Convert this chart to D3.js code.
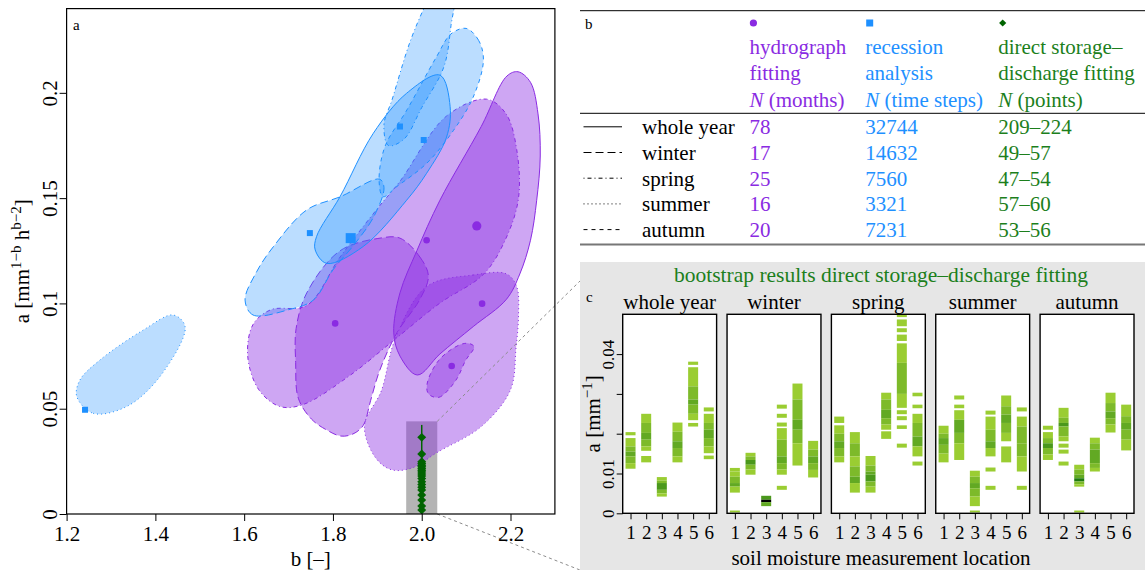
<!DOCTYPE html>
<html>
<head>
<meta charset="utf-8">
<script src="https://cdn.jsdelivr.net/npm/d3@7"></script>
<style>
  body { margin: 0; background: #fff; }
  svg, svg text { font-family: "Liberation Serif", "Times New Roman", serif; }
</style>
</head>
<body>
<div id="chart"></div>
<script>
// ---------- data ----------
var seasons = ["whole year", "winter", "spring", "summer", "autumn"];

// panel a: confidence regions as outline points [b, a]
var hydroWhole  = [[2.217,0.210],[2.245,0.205],[2.262,0.190],[2.267,0.170],[2.259,0.149],[2.245,0.130],[2.221,0.114],[2.191,0.102],[2.116,0.089],[2.041,0.076],[1.990,0.066],[1.951,0.075],[1.937,0.086],[1.951,0.105],[1.989,0.125],[2.041,0.149],[2.134,0.184],[2.192,0.208]];
var hydroWinter = [[1.951,0.131],[1.996,0.122],[2.015,0.113],[1.996,0.102],[1.944,0.086],[1.905,0.068],[1.885,0.054],[1.868,0.042],[1.845,0.038],[1.818,0.037],[1.785,0.040],[1.752,0.045],[1.722,0.055],[1.716,0.072],[1.717,0.088],[1.741,0.105],[1.816,0.125],[1.906,0.131]];
var hydroSpring = [[2.146,0.197],[2.190,0.190],[2.214,0.173],[2.218,0.150],[2.190,0.131],[2.140,0.114],[2.040,0.100],[1.940,0.083],[1.833,0.065],[1.733,0.052],[1.681,0.051],[1.633,0.059],[1.608,0.075],[1.620,0.090],[1.660,0.097],[1.741,0.099],[1.816,0.122],[1.900,0.145],[1.951,0.158],[2.056,0.189]];
var hydroSummer = [[2.011,0.108],[2.116,0.1135],[2.191,0.114],[2.214,0.108],[2.218,0.094],[2.2125,0.079],[2.200,0.059],[2.134,0.0415],[2.033,0.029],[1.980,0.022],[1.932,0.021],[1.895,0.027],[1.871,0.042],[1.909,0.0585],[1.940,0.083]];
var hydroAutumn = [[2.0155,0.057],[2.0385,0.0554],[2.0766,0.0634],[2.099,0.073],[2.118,0.0794],[2.106,0.081],[2.084,0.0802],[2.0385,0.073],[2.012,0.0617]];
var hydroPoints = [[2.124,0.1368],[1.805,0.0905],[2.011,0.130],[2.136,0.0999],[2.0675,0.0703]];

var recWhole  = [[2.041,0.2084],[2.064,0.1934],[2.056,0.179],[2.011,0.1618],[1.966,0.149],[1.868,0.127],[1.786,0.119],[1.760,0.1254],[1.763,0.1317],[1.816,0.1507],[1.891,0.1808],[1.966,0.1998]];
var recWinter = [[1.602,0.1016],[1.620,0.0945],[1.700,0.097],[1.756,0.1016],[1.800,0.1159],[1.850,0.1285],[1.892,0.1412],[1.915,0.155],[1.905,0.159],[1.817,0.1507],[1.741,0.1444],[1.666,0.127],[1.628,0.115]];
var recSpring = [[1.925,0.175],[1.915,0.185],[1.933,0.1966],[1.975,0.225],[2.016,0.245],[2.050,0.258],[2.075,0.250],[2.066,0.232],[2.050,0.2124],[2.000,0.193],[1.960,0.178]];
var recSummer = [[1.223,0.0557],[1.260,0.0478],[1.335,0.051],[1.410,0.0652],[1.467,0.0889],[1.440,0.0945],[1.373,0.0874],[1.275,0.0731],[1.230,0.0636]];
var recAutumn = [[2.100,0.2306],[2.128,0.225],[2.139,0.2156],[2.116,0.198],[2.071,0.182],[2.011,0.1665],[1.944,0.1555],[1.913,0.1507],[1.904,0.158],[1.917,0.1744],[1.967,0.192],[2.033,0.217],[2.066,0.228]];
var recPoints = [[1.840,0.131],[1.748,0.1334],[1.951,0.184],[1.2415,0.0495],[2.0045,0.1776]];

// direct storage-discharge fitting, all at b = 2
var storageB = 2.0;
var storageA = [0.0364,0.0285,0.0248,0.0240,0.0232,0.0224,0.0216,0.0208,0.0200,0.0190,0.0180,0.0168,0.0153,0.0140,0.0127,0.0114,0.0090,0.0066,0.0038,0.0019];
var storageMax = 0.0423;

var xTicksA = [1.2, 1.4, 1.6, 1.8, 2.0, 2.2];
var xTickLabelsA = ["1.2", "1.4", "1.6", "1.8", "2.0", "2.2"];
var yTicksA = [0, 0.05, 0.1, 0.15, 0.2];
var yTickLabelsA = ["0", "0.05", "0.1", "0.15", "0.2"];

// panel b table
var nHydro = ["78", "17", "25", "16", "20"];
var nRecession = ["32744", "14632", "7560", "3321", "7231"];
var nStorage = ["209\u2013224", "49\u201357", "47\u201354", "57\u201360", "53\u201356"];

// panel c: bootstrap a values per location, segments [lo, hi, shade] in 1e-3 mm^-1
var bootWholeYear = [
  [[19.6,20.4,1],[16.8,18.9,1],[15.5,16.8,2],[14.3,15.5,3],[12.6,14.3,2],[11.2,12.6,1]],
  [[22.7,25.0,1],[20.2,22.7,2],[18.5,20.2,3],[16.8,18.5,2],[15.7,16.8,1],[12.8,14.4,1]],
  [[8.2,9.1,1],[7.6,8.2,2],[5.9,7.6,4],[5.0,5.9,2],[4.2,5.0,1]],
  [[20.5,22.8,1],[18.1,20.5,2],[16.4,18.1,3],[14.3,16.4,2],[12.8,14.3,1]],
  [[37.3,38.1,1],[31.9,36.7,1],[28.6,31.9,2],[27.3,28.6,3],[25.0,27.3,2],[23.4,25.0,1],[21.8,22.7,1]],
  [[25.6,26.6,1],[22.7,25.0,1],[21.0,22.7,2],[18.9,21.0,3],[16.8,18.9,2],[15.1,16.8,1],[13.6,14.5,1]]
];
var bootWinter = [
  [[10.5,11.4,1],[9.2,10.5,1],[7.6,9.2,2],[6.7,7.6,3],[5.2,6.7,1],[0.2,0.7,1]],
  [[14.3,15.2,1],[13.4,14.3,2],[12.2,13.4,4],[11.0,12.2,2],[9.7,11.0,1]],
  [[3.4,4.4,4],[2.8,3.4,6],[1.8,2.8,3]],
  [[26.3,27.3,1],[24.0,25.0,1],[21.8,22.8,1],[18.5,21.4,1],[14.3,18.5,2],[12.6,14.3,3],[11.0,12.6,2],[9.7,11.0,1],[5.9,6.9,1]],
  [[28.6,32.6,1],[23.5,28.6,2],[21.0,23.5,3],[17.6,21.0,2],[12.0,17.6,1]],
  [[16.0,18.2,1],[14.3,16.0,2],[12.6,14.3,3],[10.9,12.6,2],[9.0,10.9,1]]
];
var bootSpring = [
  [[22.7,24.3,1],[20.0,22.1,1],[18.1,20.0,2],[16.4,18.1,3],[14.3,16.4,2],[12.8,14.3,1]],
  [[17.6,20.4,1],[14.3,17.6,2],[11.8,14.3,1],[9.2,11.8,2],[7.6,9.2,3],[5.2,7.6,1]],
  [[12.0,14.4,1],[10.5,12.0,2],[9.7,10.5,3],[8.0,9.7,4],[6.7,8.0,2],[5.2,6.7,1]],
  [[28.6,30.3,1],[26.0,28.6,2],[23.9,26.0,3],[22.3,23.9,2],[21.0,22.3,1],[18.7,20.6,1]],
  [[49.3,50.2,1],[47.0,48.7,1],[45.5,46.5,1],[43.3,44.9,1],[37.8,42.7,1],[30.0,37.8,2],[26.5,30.0,1],[24.9,25.9,1],[23.4,24.4,1],[21.2,22.1,1],[16.5,17.5,1]],
  [[29.4,30.3,1],[26.4,27.3,1],[22.7,25.0,1],[19.3,22.7,2],[16.8,19.3,3],[14.3,16.8,1],[12.0,13.0,1]]
];
var bootSummer = [
  [[20.0,22.0,1],[18.9,20.0,2],[17.2,18.9,3],[15.0,17.2,2],[12.8,15.0,1]],
  [[28.6,29.6,1],[26.4,27.3,1],[23.5,25.9,1],[20.2,23.5,3],[17.6,20.2,2],[13.4,17.6,1]],
  [[9.2,10.7,1],[7.6,9.2,2],[6.3,7.6,3],[4.2,6.3,2],[1.8,4.2,1],[0.2,0.7,1]],
  [[24.8,25.8,1],[21.0,24.3,1],[18.1,21.0,2],[16.4,18.1,3],[14.3,16.4,1],[10.5,11.5,1],[5.9,6.9,1]],
  [[26.9,29.6,1],[24.8,26.9,2],[22.7,24.8,3],[20.2,22.7,2],[18.1,20.2,1],[12.8,16.8,1]],
  [[25.6,26.6,1],[21.8,24.3,1],[17.6,21.8,2],[14.3,17.6,2],[10.5,14.3,1],[5.9,6.9,1]]
];
var bootAutumn = [
  [[21.0,22.0,1],[18.9,20.4,1],[17.6,18.9,2],[16.4,17.6,4],[14.8,16.4,2],[13.4,14.8,1]],
  [[24.0,26.5,1],[22.7,24.0,2],[21.8,22.7,4],[19.3,21.8,2],[18.1,19.3,1],[16.5,17.5,1],[15.0,16.0,1],[12.0,13.0,1]],
  [[11.0,12.2,1],[9.7,11.0,2],[8.8,9.7,3],[8.0,8.8,5],[7.3,8.0,2],[6.7,7.3,1],[0.2,0.7,1]],
  [[17.6,19.0,1],[16.0,17.6,2],[12.6,16.0,3],[11.4,12.6,2],[10.5,11.4,1]],
  [[27.7,30.3,1],[25.6,27.7,2],[23.9,25.6,3],[22.3,23.9,2],[20.3,22.3,1]],
  [[24.4,27.3,1],[22.7,24.4,2],[21.0,22.7,3],[18.5,21.0,2],[15.8,18.5,1]]
];
var locations = [1, 2, 3, 4, 5, 6];
var yTicksC = [0, 0.01, 0.02, 0.03, 0.04];
var yTickLabelsC = ["0", "0.01", "", "", "0.04"];

// ---------- styles ----------
var purple = "#8A2BE2", blue = "#1E90FF", green = "#006400", textGreen = "#1C7F1C";
var dashes = { "whole year": null, "winter": "8,4", "spring": "1,3,4,3", "summer": "1,3", "autumn": "4,4" };
var shade = ["#9ACD32", "#7DBA2A", "#62A923", "#4A981C", "#1E7A0E", "#000000"];
var fs = 21;

var W = 1145, H = 570;
var svg = d3.select("#chart").append("svg")
    .attr("width", W)
    .attr("height", H);

// ================= panel a =================
var x = d3.scaleLinear().domain([1.2, 2.3]).range([66.6, 554.9]);
var y = d3.scaleLinear().domain([0, 0.24]).range([514, 8.6]);

svg.append("clipPath").attr("id", "clipA")
  .append("rect")
    .attr("x", x(1.2)).attr("y", y(0.24))
    .attr("width", x(2.3) - x(1.2)).attr("height", y(0) - y(0.24));

var gA = svg.append("g").attr("clip-path", "url(#clipA)");

// zoom rectangle (drawn under the regions)
gA.append("rect")
    .attr("x", x(1.965)).attr("y", y(0.044))
    .attr("width", x(2.035) - x(1.965)).attr("height", y(0) - y(0.044))
    .attr("fill", "#b4b4b4");

var outline = d3.line()
    .x(function(d) { return x(d[0]); })
    .y(function(d) { return y(d[1]); })
    .curve(d3.curveCatmullRomClosed.alpha(0.5));

var hydroRegions = [hydroWhole, hydroWinter, hydroSpring, hydroSummer, hydroAutumn];
var recRegions = [recWhole, recWinter, recSpring, recSummer, recAutumn];

function drawRegions(regions, color, opacity) {
  gA.append("g").selectAll("path")
    .data(regions)
    .enter().append("path")
      .attr("d", outline)
      .attr("fill", color)
      .attr("fill-opacity", opacity)
      .attr("stroke", color)
      .attr("stroke-width", 1)
      .attr("stroke-dasharray", function(d, i) { return dashes[seasons[i]]; });
}
drawRegions(hydroRegions, purple, 0.42);
drawRegions(recRegions, blue, 0.3);

// best estimates
gA.append("g").selectAll("circle")
  .data(hydroPoints)
  .enter().append("circle")
    .attr("cx", function(d) { return x(d[0]); })
    .attr("cy", function(d) { return y(d[1]); })
    .attr("r", function(d, i) { return i === 0 ? 4.6 : 3.3; })
    .attr("fill", purple);

gA.append("g").selectAll("rect")
  .data(recPoints)
  .enter().append("rect")
    .attr("x", function(d, i) { return x(d[0]) - (i === 0 ? 5 : 3); })
    .attr("y", function(d, i) { return y(d[1]) - (i === 0 ? 5 : 3); })
    .attr("width", function(d, i) { return i === 0 ? 10 : 6; })
    .attr("height", function(d, i) { return i === 0 ? 10 : 6; })
    .attr("fill", blue);

gA.append("line")
    .attr("x1", x(storageB)).attr("x2", x(storageB))
    .attr("y1", y(0)).attr("y2", y(storageMax))
    .attr("stroke", green).attr("stroke-width", 1.5);

gA.append("g").selectAll("path")
  .data(storageA)
  .enter().append("path")
    .attr("d", d3.symbol().type(d3.symbolSquare).size(40))
    .attr("transform", function(d) { return "translate(" + x(storageB) + "," + y(d) + ") rotate(45)"; })
    .attr("fill", green);

// connector lines to panel c
svg.append("g").selectAll("line")
  .data([[0.044, 281], [0, 570]])
  .enter().append("line")
    .attr("x1", x(2.035)).attr("y1", function(d) { return y(d[0]); })
    .attr("x2", 580).attr("y2", function(d) { return d[1]; })
    .attr("stroke", "#8c8c8c")
    .attr("stroke-dasharray", "3,3");

// box and axes
svg.append("rect")
    .attr("x", x(1.2)).attr("y", y(0.24))
    .attr("width", x(2.3) - x(1.2)).attr("height", y(0) - y(0.24))
    .attr("fill", "none").attr("stroke", "#000").attr("stroke-width", 1.2);

var xAxisA = d3.axisBottom(x).tickValues(xTicksA)
    .tickFormat(function(d, i) { return xTickLabelsA[i]; })
    .tickSize(7).tickPadding(5);
svg.append("g")
    .attr("transform", "translate(0," + y(0) + ")")
    .call(xAxisA)
    .call(function(g) { g.select(".domain").remove(); })
    .selectAll("text").attr("font-size", fs).attr("fill", "#000");

var yAxisA = d3.axisLeft(y).tickValues(yTicksA)
    .tickFormat(function(d, i) { return yTickLabelsA[i]; })
    .tickSize(7);
svg.append("g")
    .attr("transform", "translate(" + x(1.2) + ",0)")
    .call(yAxisA)
    .call(function(g) { g.select(".domain").remove(); })
    .selectAll("text")
      .attr("transform", "rotate(-90)")
      .attr("x", 0).attr("y", -10).attr("dy", 0)
      .attr("text-anchor", "middle")
      .attr("font-size", fs).attr("fill", "#000");

svg.selectAll(".tick line").attr("stroke", "#000");

svg.append("text")
    .attr("x", (x(1.2) + x(2.3)) / 2).attr("y", 566)
    .attr("text-anchor", "middle").attr("font-size", fs)
    .text("b [\u2013]");

var yLab = svg.append("text")
    .attr("transform", "translate(29," + (y(0) + y(0.24)) / 2 + ") rotate(-90)")
    .attr("text-anchor", "middle").attr("font-size", fs);
yLab.append("tspan").text("a [mm");
yLab.append("tspan").attr("dy", -8).attr("font-size", 15).text("1\u2212b");
yLab.append("tspan").attr("dy", 8).text(" h");
yLab.append("tspan").attr("dy", -8).attr("font-size", 15).text("b\u22122");
yLab.append("tspan").attr("dy", 8).text("]");

svg.append("text").attr("x", 73).attr("y", 30).attr("font-size", 15).text("a");

// ================= panel b (table) =================
var gB = svg.append("g").attr("font-size", fs);
var colX = [749.4, 865.2, 998.2];
var colColor = [purple, blue, textGreen];
var header = [
  ["hydrograph", "fitting", "(months)"],
  ["recession", "analysis", "(time steps)"],
  ["direct storage\u2013", "discharge fitting", "(points)"]
];
var counts = [nHydro, nRecession, nStorage];

gB.append("line").attr("x1", 580).attr("x2", 1145).attr("y1", 10.7).attr("y2", 10.7).attr("stroke", "#000");
gB.append("line").attr("x1", 580).attr("x2", 1145).attr("y1", 113.3).attr("y2", 113.3).attr("stroke", "#000");
gB.append("line").attr("x1", 580).attr("x2", 1145).attr("y1", 244.5).attr("y2", 244.5).attr("stroke", "#777").attr("stroke-width", 2);
gB.append("text").attr("x", 585).attr("y", 29).attr("font-size", 15).text("b");

gB.append("circle").attr("cx", colX[0] + 4).attr("cy", 23).attr("r", 3.6).attr("fill", purple);
gB.append("rect").attr("x", colX[1] + 1).attr("y", 19.5).attr("width", 7).attr("height", 7).attr("fill", blue);
gB.append("path")
    .attr("d", d3.symbol().type(d3.symbolSquare).size(26))
    .attr("transform", "translate(" + (colX[2] + 4.5) + ",23) rotate(45)")
    .attr("fill", green);

header.forEach(function(lines, c) {
  lines.forEach(function(s, r) {
    var t = gB.append("text")
        .attr("x", colX[c]).attr("y", 54 + r * 26.3)
        .attr("fill", colColor[c]);
    if (r === 2) {
      t.append("tspan").attr("font-style", "italic").text("N");
      t.append("tspan").text(" " + s);
    } else {
      t.text(s);
    }
  });
});

seasons.forEach(function(s, i) {
  var base = 134.3 + i * 25.7;
  gB.append("line")
      .attr("x1", 583.5).attr("x2", 622)
      .attr("y1", base - 7.5).attr("y2", base - 7.5)
      .attr("stroke", "#000").attr("stroke-width", 1)
      .attr("stroke-dasharray", dashes[s]);
  gB.append("text").attr("x", 642).attr("y", base).text(s);
  counts.forEach(function(col, c) {
    gB.append("text").attr("x", colX[c]).attr("y", base).attr("fill", colColor[c]).text(col[i]);
  });
});

// ================= panel c =================
var gC = svg.append("g");
gC.append("rect").attr("x", 580).attr("y", 262).attr("width", 565).attr("height", 308).attr("fill", "#e6e6e6");

var band = d3.scaleBand().domain(seasons).range([622.7, 1134]).paddingInner(0.1);
var cx = d3.scaleLinear().domain([0.5, 6.5]).range([0, band.bandwidth()]);
var cy = d3.scaleLinear().domain([0, 0.05]).range([513.3, 314.3]);
var boots = [bootWholeYear, bootWinter, bootSpring, bootSummer, bootAutumn];

gC.append("text").attr("x", 881).attr("y", 281.5).attr("text-anchor", "middle")
    .attr("font-size", 21.5).attr("fill", textGreen)
    .text("bootstrap results direct storage\u2013discharge fitting");
gC.append("text").attr("x", 586).attr("y", 302).attr("font-size", 15).text("c");

seasons.forEach(function(s, k) {
  var p = gC.append("g").attr("transform", "translate(" + band(s) + ",0)");
  p.append("clipPath").attr("id", "clipC" + k)
    .append("rect").attr("x", 0).attr("y", cy(0.05))
      .attr("width", band.bandwidth()).attr("height", cy(0) - cy(0.05));
  p.append("rect")
      .attr("x", 0).attr("y", cy(0.05))
      .attr("width", band.bandwidth()).attr("height", cy(0) - cy(0.05))
      .attr("fill", "#fff");

  var bars = p.append("g").attr("clip-path", "url(#clipC" + k + ")");
  boots[k].forEach(function(segs, j) {
    bars.selectAll(null)
      .data(segs)
      .enter().append("rect")
        .attr("x", cx(locations[j]) - 5)
        .attr("width", 10)
        .attr("y", function(d) { return cy(d[1] / 1000); })
        .attr("height", function(d) { return cy(d[0] / 1000) - cy(d[1] / 1000); })
        .attr("fill", function(d) { return shade[d[2] - 1]; });
  });

  p.append("rect")
      .attr("x", 0).attr("y", cy(0.05))
      .attr("width", band.bandwidth()).attr("height", cy(0) - cy(0.05))
      .attr("fill", "none").attr("stroke", "#000").attr("stroke-width", 1.4);

  p.append("text").attr("x", band.bandwidth() / 2).attr("y", 309)
      .attr("text-anchor", "middle").attr("font-size", fs).text(s);

  p.append("g")
      .attr("transform", "translate(0," + cy(0) + ")")
      .call(d3.axisBottom(cx).tickValues(locations).tickFormat(d3.format("d")).tickSize(6).tickPadding(6))
      .call(function(g) { g.select(".domain").remove(); })
      .selectAll("text").attr("font-size", 19).attr("fill", "#000");
});

gC.append("g")
    .attr("transform", "translate(" + band("whole year") + ",0)")
    .call(d3.axisLeft(cy).tickValues(yTicksC).tickFormat(function(d, i) { return yTickLabelsC[i]; }).tickSize(6))
    .call(function(g) { g.select(".domain").remove(); })
    .selectAll("text")
      .attr("transform", "rotate(-90)")
      .attr("x", 0).attr("y", -9).attr("dy", 0)
      .attr("text-anchor", "middle")
      .attr("font-size", 17).attr("fill", "#000");

gC.selectAll(".tick line").attr("stroke", "#000");

var cLab = gC.append("text")
    .attr("transform", "translate(600," + (cy(0) + cy(0.05)) / 2 + ") rotate(-90)")
    .attr("text-anchor", "middle").attr("font-size", fs);
cLab.append("tspan").text("a [mm");
cLab.append("tspan").attr("dy", -8).attr("font-size", 15).text("\u22121");
cLab.append("tspan").attr("dy", 8).text("]");

gC.append("text").attr("x", 881).attr("y", 565).attr("text-anchor", "middle")
    .attr("font-size", fs).text("soil moisture measurement location");
</script>
</body>
</html>
